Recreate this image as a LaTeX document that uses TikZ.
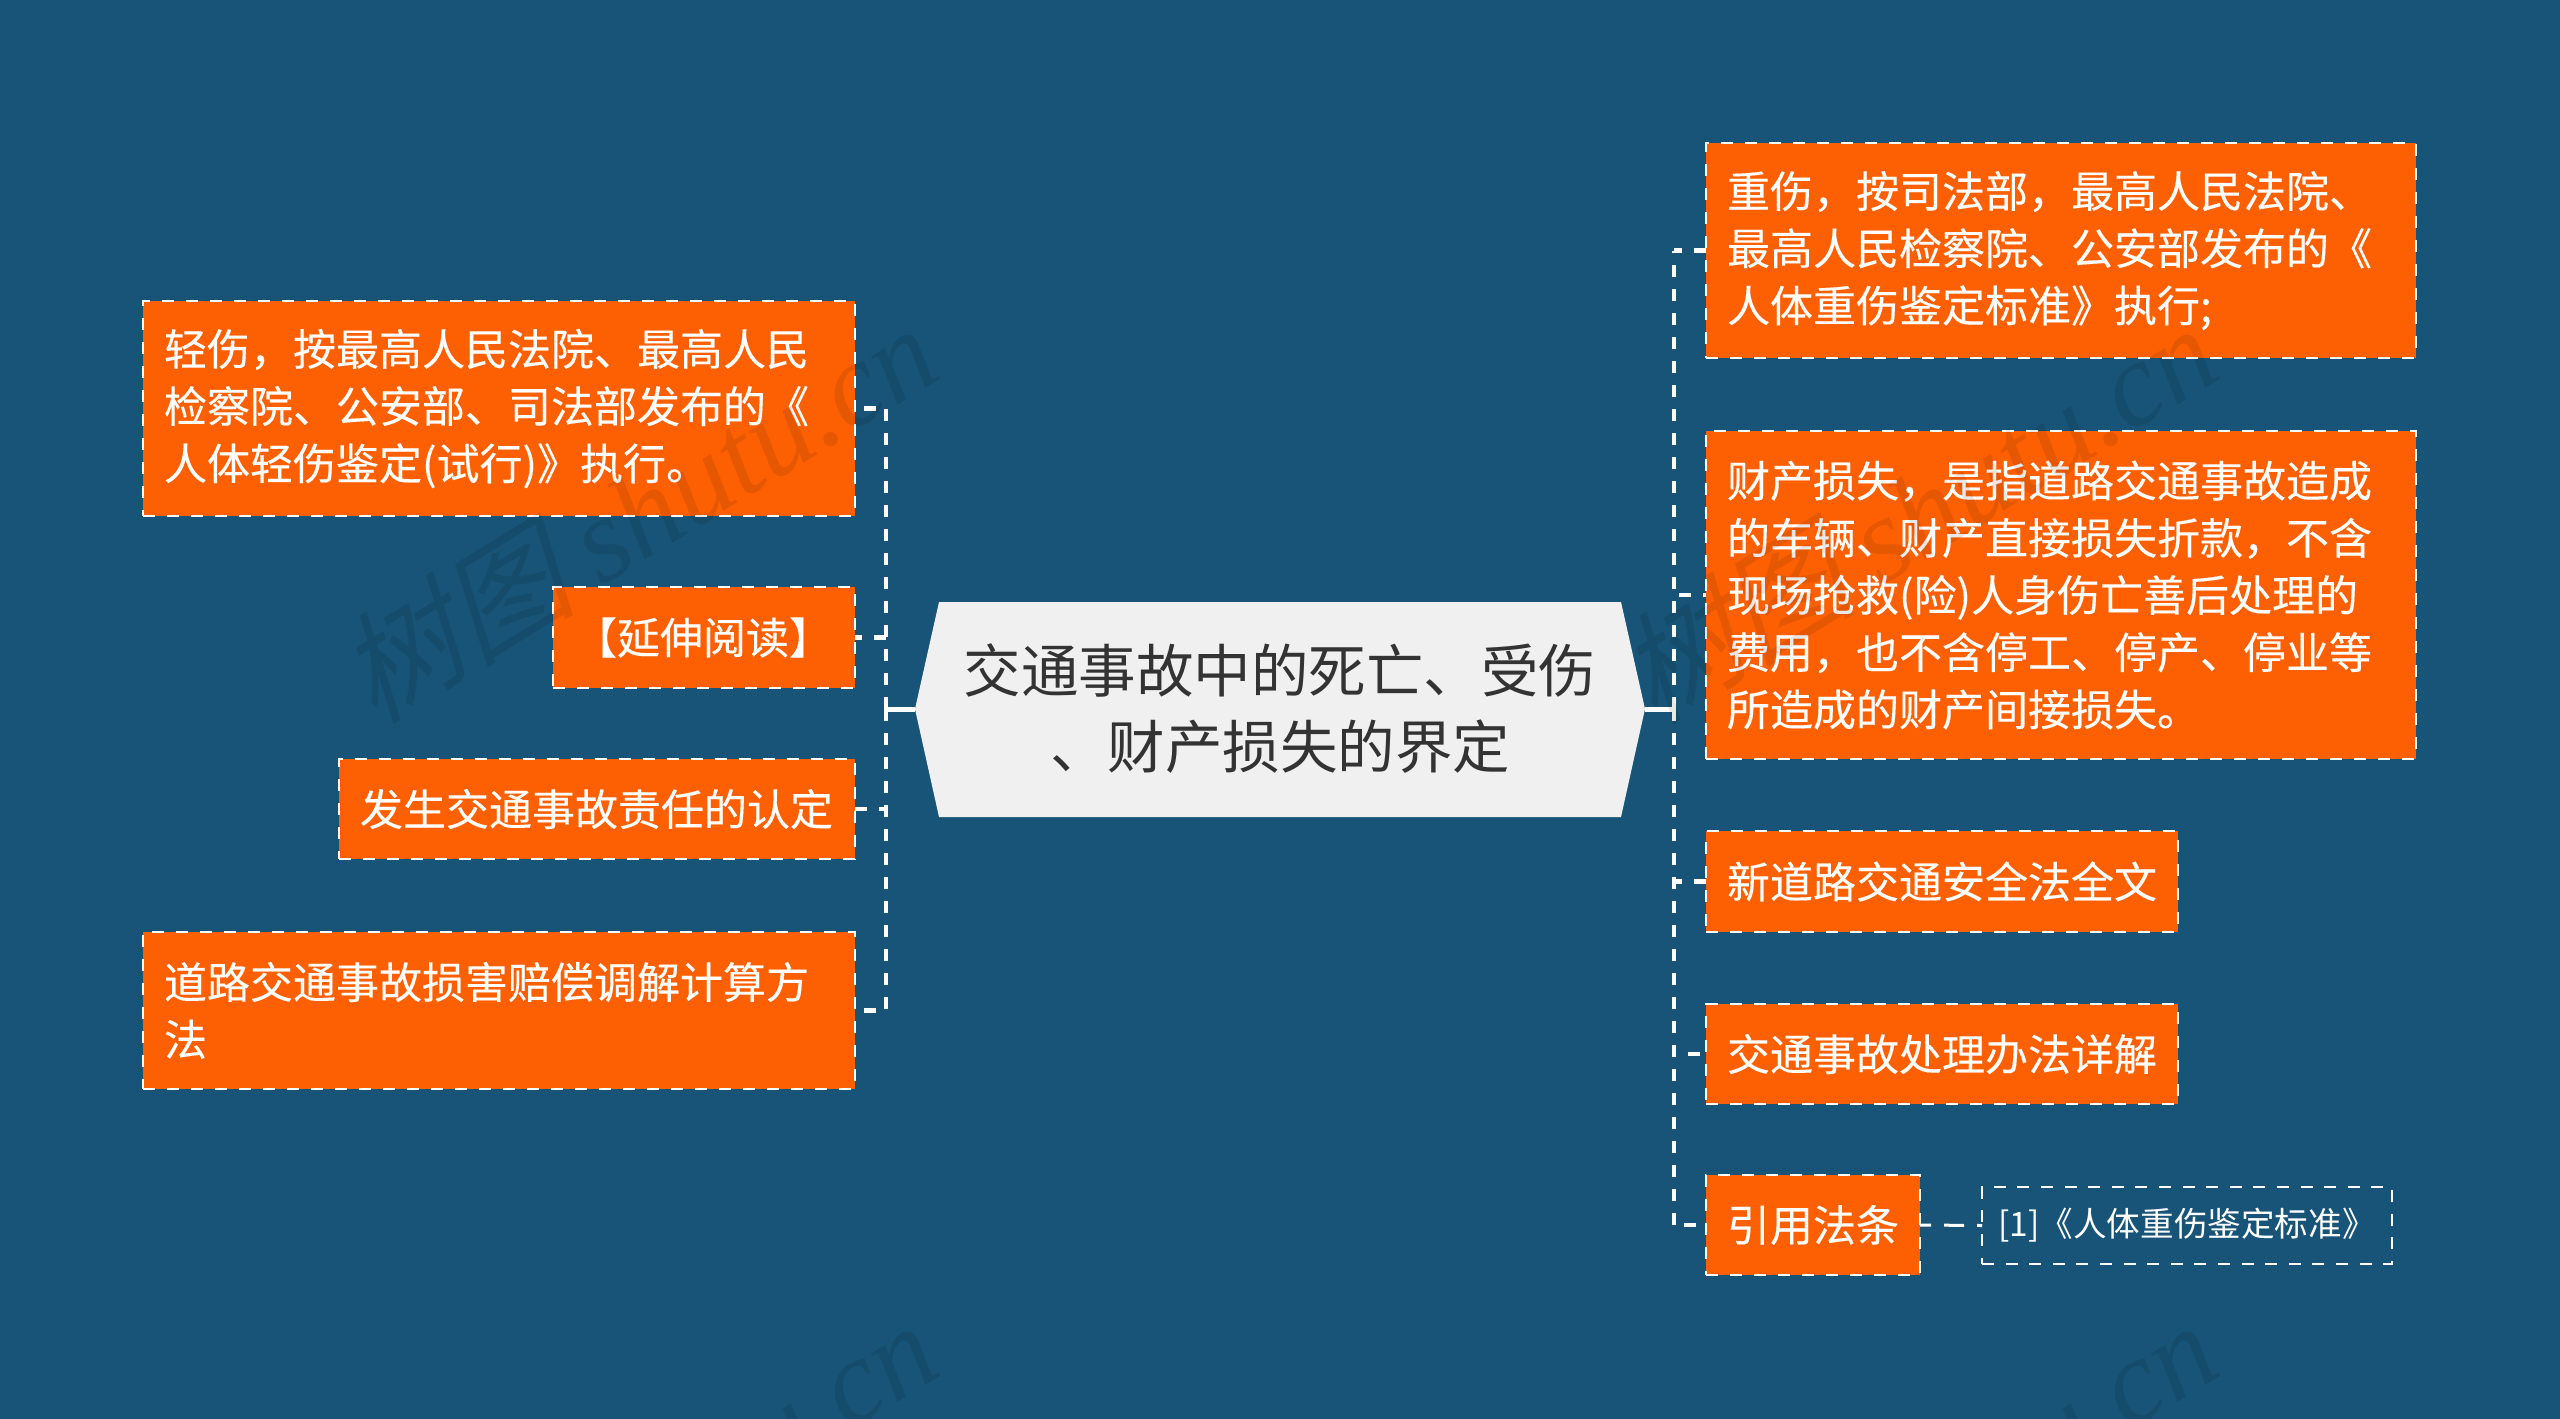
\documentclass[tikz,border=0pt]{standalone}
\usepackage{fontspec}
\setmainfont{Noto Sans CJK SC}
\newfontfamily\boxfont[FakeBold=0.2]{Noto Sans CJK SC}
\newfontfamily\wmfont{Liberation Serif}
\newfontfamily\wmcjk[FakeSlant=0.25]{Noto Sans CJK SC}
\definecolor{bgblue}{HTML}{185477}
\definecolor{boxorange}{HTML}{FD6003}
\definecolor{hubgray}{HTML}{F0F0F0}
\definecolor{hubtext}{HTML}{333333}
\usetikzlibrary{calc}
\tikzset{
  x=0.5pt,y=-0.5pt,
  topicbox/.style={draw=white,fill=boxorange,line width=1.4pt,dash pattern=on 6.2pt off 5.8pt,
    inner sep=0pt,outer sep=0pt,text=white,font=\fontsize{21.5pt}{28.6pt}\selectfont\boxfont,
    align=left,text width=#1,execute at begin node=\setlength{\baselineskip}{28.6pt}},
  leafbox/.style={draw=white,line width=1.3pt,dash pattern=on 6pt off 5.8pt,inner sep=0pt,outer sep=0pt,
    text=white,font=\fontsize{16.8pt}{22pt}\selectfont,align=center},
  link/.style={draw=white,line width=2.25pt,dash pattern=on 6pt off 6pt},
  leaflink/.style={draw=white,line width=1.5pt,dash pattern=on 10pt off 6.5pt,dash phase=4.5pt},
  stub/.style={draw=white,line width=2.5pt},
  wm/.style={rotate=31.5,text=black,opacity=0.09,font=\fontsize{60pt}{64pt}\selectfont\itshape},
}
\newcommand{\tbox}[6]{% name x0 y0 x1 y1 text
  \node[topicbox=\dimexpr(#4pt-#2pt)*1/2-21pt\relax,minimum width=(#4-#2)*0.5pt,minimum height=(#5-#3)*0.5pt] (#1) at ({(#2+#4)/2},{(#3+#5)/2}) {#6};}
\begin{document}
\begin{tikzpicture}
\useasboundingbox (0,0) rectangle (2560,1419);
\fill[bgblue] (0,0) rectangle (2560,1419);
% hub
\fill[hubgray] (939,602) -- (1621,602) -- (1645,709) -- (1621,817) -- (939,817) -- (915,709) -- cycle;
\node[minimum width=365pt,minimum height=107pt,inner sep=0pt,outer sep=0pt,text=hubtext,align=center,
  font=\fontsize{28.75pt}{38pt}\selectfont] (hub) at (1280,709) {交通事故中的死亡、受伤\\、财产损失的界定};
\coordinate (tl) at (886,709);
\coordinate (tr) at (1674,709);
% boxes
\tbox{l1}{143}{301}{855}{516}{轻伤，按最高人民法院、最高人民\\检察院、公安部、司法部发布的《\\人体轻伤鉴定(试行)》执行。}
\tbox{l2}{553}{587}{855}{688}{【延伸阅读】}
\tbox{l3}{339}{759}{855}{859}{发生交通事故责任的认定}
\tbox{l4}{143}{932}{855}{1089}{道路交通事故损害赔偿调解计算方\\法}
\tbox{r1}{1706}{143}{2416}{358}{重伤，按司法部，最高人民法院、\\最高人民检察院、公安部发布的《\\人体重伤鉴定标准》执行;}
\tbox{r2}{1706}{431}{2416}{759}{财产损失，是指道路交通事故造成\\的车辆、财产直接损失折款，不含\\现场抢救(险)人身伤亡善后处理的\\费用，也不含停工、停产、停业等\\所造成的财产间接损失。}
\tbox{r3}{1706}{831}{2178}{932}{新道路交通安全法全文}
\tbox{r4}{1706}{1004}{2178}{1104}{交通事故处理办法详解}
\tbox{r5}{1706}{1175}{1920}{1275}{引用法条}
\node[leafbox,minimum width=205pt,minimum height=38.5pt] (leaf) at (2187,1225.5) {\raisebox{-0.8pt}{[1]《人体重伤鉴定标准》}};
% connectors
\draw[stub] (hub.west) -- (tl);
\draw[stub] (hub.east) -- (tr);
\draw[link] (tl) -- (tl |- l1.east);
\draw[link] (tl) -- (tl |- l4.east);
\draw[link] (tr) -- (tr |- r1.west);
\draw[link] (tr) -- (tr |- r5.west);
\foreach \n/\ph in {l1/7.5pt,l2/2.5pt,l3/0pt,l4/7.5pt}
  \draw[link,dash phase=\ph] (\n.east) -- (\n.east -| tl);
\foreach \n/\ph in {r1/0pt,r2/4.5pt,r3/0pt,r4/9pt,r5/7pt}
  \draw[link,dash phase=\ph] (\n.west) -- (\n.west -| tr);
\draw[leaflink] (r5.east) -- (leaf.west);
% watermarks
\foreach \wx/\wy/\wn in {636/512/a,1916/512/b,636/1509/c,1916/1509/d}{
  \node[wm] (wm\wn) at (\wx,\wy) {{\wmcjk 树图} {\wmfont shutu.cn}};
}
\end{tikzpicture}
\end{document}
